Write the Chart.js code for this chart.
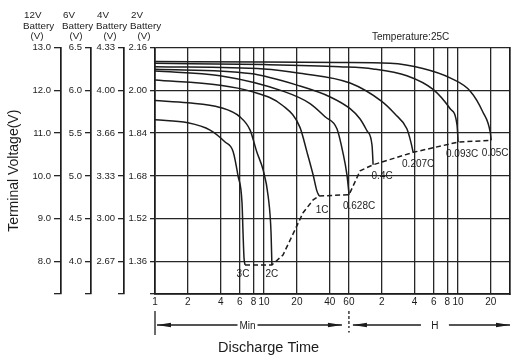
<!DOCTYPE html>
<html><head><meta charset="utf-8">
<script src="https://cdn.jsdelivr.net/npm/chart.js@4.4.0/dist/chart.umd.min.js"></script>
<style>html,body{margin:0;padding:0;background:#fff}canvas{display:block}</style>
</head><body>
<canvas id="c" width="512" height="358"></canvas>
<script>
// ---------- data: discharge time in minutes, terminal voltage of 12V battery ----------
const rateLabels = ["0.05C","0.093C","0.207C","0.4C","0.628C","1C","2C","3C"];

const t005  = [1, 10, 50, 143, 286, 508, 778, 1012, 1186, 1210];
const v005  = [12.67, 12.66, 12.65, 12.63, 12.51, 12.29, 11.98, 11.5, 11.02, 10.83];
const t0093 = [1, 10, 49.6, 100, 204, 355, 509, 588, 602];
const v0093 = [12.63, 12.6, 12.55, 12.5, 12.34, 12.02, 11.57, 11.19, 10.79];
const t0207 = [1, 10, 21.3, 61.5, 120, 158, 204, 222, 233];
const v0207 = [12.55, 12.5, 12.4, 12.17, 11.74, 11.45, 11.1, 10.79, 10.55];
const t04   = [1, 7.45, 21.3, 40, 61.5, 76, 88, 97.8, 100];
const v04   = [12.49, 12.39, 12.1, 11.85, 11.57, 11.33, 11.05, 10.71, 10.26];
const t0628 = [1, 3.95, 14.9, 26.4, 36.3, 46.6, 52.8, 57.6, 60.2];
const v0628 = [12.45, 12.34, 11.98, 11.69, 11.38, 11.1, 10.55, 10.02, 9.56];
const t1    = [1, 3.95, 7.45, 14.9, 21.3, 24.8, 28.2, 30.5, 32];
const v1    = [12.24, 12.12, 11.98, 11.64, 11.14, 10.55, 10.02, 9.65, 9.53];
const t2    = [1, 2, 3.95, 6.0, 7.45, 8.6, 9.8, 10.9, 11.6, 11.8];
const v2    = [11.76, 11.71, 11.6, 11.38, 11.07, 10.55, 10.14, 9.53, 8.65, 7.92];
const t3    = [1, 2, 3.2, 4.39, 5.2, 5.77, 6.28, 6.42, 6.55, 6.69];
const v3    = [11.31, 11.24, 11.07, 10.79, 10.57, 10.0, 9.37, 8.65, 8.08, 7.92];
// end-of-discharge (final voltage) line
const tEnd  = [6.69, 11.8, 14.9, 18.5, 22.8, 28.2, 32, 60.2, 76, 100, 233, 602, 1210];
const vEnd  = [7.92, 7.92, 8.15, 8.65, 9.14, 9.44, 9.53, 9.56, 10.12, 10.26, 10.55, 10.79, 10.83];

// ---------- ticks ----------
const timeTicks      = [1,2,4,6,8,10,20,40,60,120,240,360,480,600,1200];
const timeTickLabels = ["1","2","4","6","8","10","20","40","60","2","4","6","8","10","20"];
const voltTicks = [8, 9, 10, 11, 12, 13];
const v12Labels = ["8.0","9.0","10.0","11.0","12.0","13.0"];
const v6Labels  = ["4.0","4.5","5.0","5.5","6.0","6.5"];
const v4Labels  = ["2.67","3.00","3.33","3.66","4.00","4.33"];
const v2Labels  = ["1.36","1.52","1.68","1.84","2.00","2.16"];
const yMin = 7.24, yMax = 13.0, xMin = 1, xMax = 1800;

// ---------- chart ----------
const FONT = '"Liberation Sans", Arial, sans-serif';
const INK = '#1c1c1c';
const zip = (t, v) => t.map((x, i) => ({x, y: v[i]}));
const curves = [[t005,v005],[t0093,v0093],[t0207,v0207],[t04,v04],[t0628,v0628],[t1,v1],[t2,v2],[t3,v3]];

const datasets = curves.map((c, i) => ({
  label: rateLabels[i], data: zip(c[0], c[1]),
  borderColor: INK, borderWidth: 1.5, pointRadius: 0,
  cubicInterpolationMode: 'monotone', fill: false
}));
datasets.push({
  label: 'end', data: zip(tEnd, vEnd), borderColor: INK, borderWidth: 1.5,
  borderDash: [5, 3], pointRadius: 0, tension: 0, fill: false
});

function voltAxis(labels, weight, width, tickLen, onArea, extra) {
  return Object.assign({
    type: 'linear', position: 'left', weight, min: yMin, max: yMax,
    afterBuildTicks: s => { s.ticks = [yMin].concat(voltTicks).map(v => ({value: v})); },
    afterFit: s => { s.width = width; },
    ticks: { autoSkip: false, font: {family: FONT, size: 9.5}, color: INK, padding: 3,
      callback: v => { const i = voltTicks.indexOf(v); return i < 0 ? '' : labels[i]; } },
    grid: { drawOnChartArea: onArea, drawTicks: true, tickLength: tickLen, color: '#262626', lineWidth: 1.3 },
    border: { display: true, color: INK, width: 1.7 }
  }, extra || {});
}

const headerOffsets = {y12: 38, y6: 29, y4: 28, y: 25};
const headerTop = {y12: '12V', y6: '6V', y4: '4V', y: '2V'};
const labelOffsets = [[4,13],[4,12],[5,12],[9,11],[10,12],[3,14],[0,9],[-2,9]];

function arrow(ctx, x, y, dir) {
  ctx.beginPath();
  ctx.moveTo(x, y);
  ctx.lineTo(x - dir * 14, y - 2.2);
  ctx.lineTo(x - dir * 14, y + 2.2);
  ctx.closePath(); ctx.fill();
}

const annot = {
  id: 'annot',
  afterDraw(chart) {
    const {ctx, chartArea: a, scales} = chart;
    const xs = scales.x;
    ctx.save();
    ctx.fillStyle = INK; ctx.strokeStyle = INK;
    // axis headers
    ctx.font = '9.8px ' + FONT; ctx.textBaseline = 'middle';
    for (const id of ['y12','y6','y4','y']) {
      const L = scales[id].right - headerOffsets[id];
      ctx.textAlign = 'left';
      ctx.fillText(headerTop[id], L + 1, 15);
      ctx.fillText('Battery', L, 26);
      ctx.textAlign = 'center';
      ctx.fillText('(V)', L + 14, 36);
    }
    // temperature
    ctx.font = '10px ' + FONT; ctx.textAlign = 'center';
    ctx.fillText('Temperature:25C', a.left + 0.72 * (a.right - a.left), 37);
    // curve labels
    datasets.forEach((d, i) => {
      if (i >= rateLabels.length) return;
      const pts = chart.getDatasetMeta(i).data;
      const p = pts[pts.length - 1];
      ctx.fillText(rateLabels[i], p.x + labelOffsets[i][0], p.y + labelOffsets[i][1]);
    });
    // Min / H row
    const x1 = xs.getPixelForValue(1), x60 = xs.getPixelForValue(60), xr = a.right;
    const yr = 325;
    ctx.lineWidth = 1.3;
    ctx.beginPath(); ctx.moveTo(x1, 311); ctx.lineTo(x1, 335); ctx.stroke();
    const mMid = x1 + 0.477 * (x60 - x1);
    ctx.beginPath(); ctx.moveTo(x1 + 2, yr); ctx.lineTo(mMid - 10, yr);
    ctx.moveTo(mMid + 10, yr); ctx.lineTo(x60 - 7, yr); ctx.stroke();
    arrow(ctx, x1 + 2, yr, -1); arrow(ctx, x60 - 7, yr, 1);
    ctx.font = '10px ' + FONT; ctx.fillText('Min', mMid, yr + 1);
    ctx.setLineDash([3, 2]);
    ctx.beginPath(); ctx.moveTo(x60, 311); ctx.lineTo(x60, 328); ctx.stroke();
    ctx.setLineDash([]);
    ctx.fillRect(x60 - 0.7, 331, 1.5, 1.5);
    const hMid = x60 + 0.534 * (xr - x60);
    ctx.beginPath(); ctx.moveTo(x60 + 4, yr); ctx.lineTo(hMid - 14, yr);
    ctx.moveTo(hMid + 14, yr); ctx.lineTo(xr, yr); ctx.stroke();
    arrow(ctx, x60 + 4, yr, -1); arrow(ctx, xr, yr, 1);
    ctx.fillText('H', hMid, yr + 1);
    // x title
    ctx.font = '14.5px ' + FONT;
    ctx.fillText('Discharge Time', a.left + 0.32 * (a.right - a.left), 348);
    ctx.restore();
  }
};

new Chart(document.getElementById('c'), {
  type: 'line',
  data: { datasets },
  options: {
    responsive: false, animation: false, events: [],
    layout: { padding: { top: 47.5, left: 0, right: 0, bottom: 0 } },
    plugins: { legend: {display: false}, tooltip: {enabled: false} },
    scales: {
      x: {
        type: 'logarithmic', position: 'bottom', min: xMin, max: xMax,
        afterBuildTicks: s => { s.ticks = timeTicks.map(v => ({value: v})); },
        afterFit: s => { s.height = 64; },
        ticks: { autoSkip: false, maxRotation: 0, font: {family: FONT, size: 10}, color: INK, padding: 2,
          callback: v => { const i = timeTicks.indexOf(v); return i < 0 ? '' : timeTickLabels[i]; } },
        grid: { color: '#262626', lineWidth: 1.3, drawTicks: false },
        border: { color: INK, width: 1.7 }
      },
      y: voltAxis(v2Labels, 1, 31, 5, true),
      y4: voltAxis(v4Labels, 2, 33, 6, false),
      y6: voltAxis(v6Labels, 3, 30, 6, false),
      y12: voltAxis(v12Labels, 4, 61, 7, false, {
        title: { display: true, text: 'Terminal Voltage(V)', font: {family: FONT, size: 14}, color: INK, padding: {top: 6, bottom: 0} }
      }),
      yR: {
        type: 'linear', position: 'right', min: yMin, max: yMax,
        afterFit: s => { s.width = 2; },
        ticks: { display: false }, grid: { display: false, drawTicks: false },
        border: { display: true, color: INK, width: 1.7 }
      }
    }
  },
  plugins: [annot]
});
</script>
</body></html>
